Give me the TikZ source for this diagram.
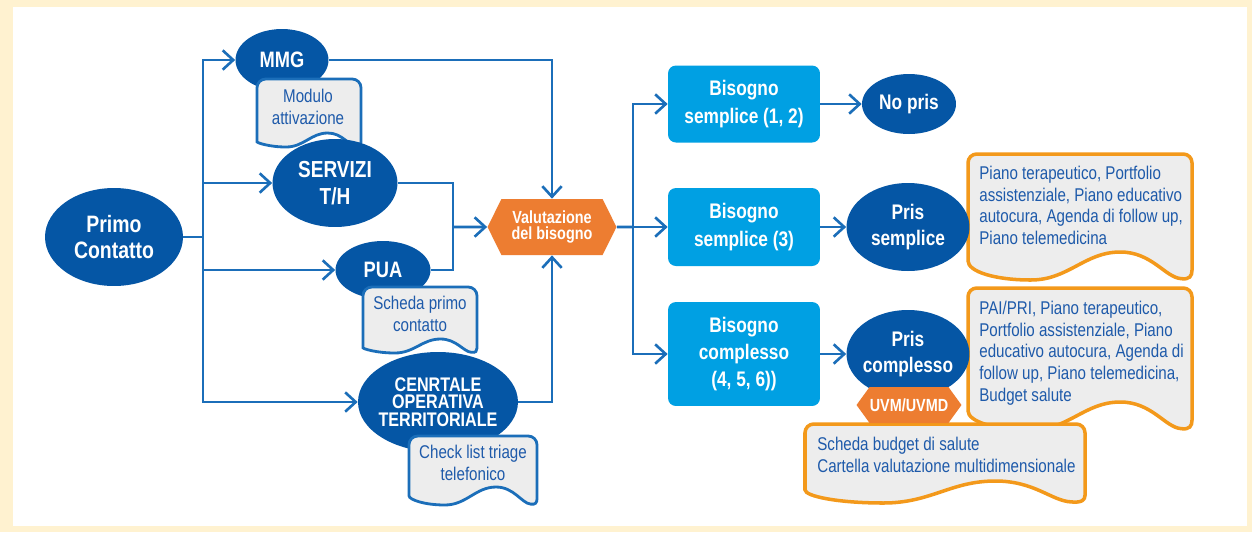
\documentclass[tikz,border=0pt]{standalone}
\usepackage{fontspec}
\setmainfont{Liberation Sans}[FakeStretch=0.82]
\usetikzlibrary{arrows.meta, shapes.geometric, shapes.symbols}

\definecolor{cream}{RGB}{255,242,208}
\definecolor{ellblue}{RGB}{5,86,165}
\definecolor{linkblue}{RGB}{27,110,185}
\definecolor{needcyan}{RGB}{0,160,227}
\definecolor{hexorange}{RGB}{237,125,49}
\definecolor{docorange}{RGB}{243,153,27}
\definecolor{docgray}{RGB}{237,237,237}
\definecolor{docink}{RGB}{30,90,170}

% document shape with a wavy bottom: colour, x1, y1, x2, y2, wave depth
\newcommand{\wavedoc}[6]{%
  \pgfmathsetmacro{\docw}{#4-#2}%
  \draw[doc, draw=#1]
    (#4,#5-0.35*#6) [rounded corners=5pt] -- (#4,#3) -- (#2,#3) -- (#2,#5-#6) [sharp corners]
    .. controls (#2,#5-0.3*#6) and (#2+0.12*\docw,#5) .. (#2+0.28*\docw,#5)
    .. controls (#2+0.45*\docw,#5) and (#2+0.52*\docw,#5-#6) .. (#2+0.68*\docw,#5-#6)
    .. controls (#2+0.82*\docw,#5-#6) and (#4-0.12*\docw,#5-0.1*#6) .. (#4-0.05*\docw,#5-0.05*#6)
    .. controls (#4-0.01*\docw,#5) and (#4,#5-0.15*#6) .. (#4,#5-0.35*#6) -- cycle;
}

\begin{document}
\begin{tikzpicture}[
  x=0.02cm, y=-0.02cm,
  ell/.style={ellipse, fill=ellblue, text=white, inner sep=0pt, inner xsep=-6pt, align=center,
    font=\bfseries\fontsize{12}{15.3}\selectfont},
  need/.style={rectangle, rounded corners=4.5pt, fill=needcyan, text=white, minimum width=3.04cm,
    align=center, font=\bfseries\fontsize{12}{15.6}\selectfont},
  hexa/.style={signal, signal to=west and east, fill=hexorange, text=white, inner sep=0pt,
    align=center, font=\bfseries\fontsize{10}{9.6}\selectfont},
  doc/.style={fill=docgray, line width=1.6pt},
  doctext/.style={text=docink, inner sep=0pt, font=\fontsize{10.5}{12.3}\selectfont},
  conn/.style={draw=linkblue, line width=1.5pt},
  arr/.style={conn, -{Straight Barb[length=6pt, width=11pt]}},
]

% --- frame
\fill[cream] (0,0) rectangle (1252,532);
\fill[white] (13,7) rectangle (1247,526);
\useasboundingbox (0,0) rectangle (1252,532);

% --- entry points
\node[ell, font=\bfseries\fontsize{13.5}{15.3}\selectfont, minimum width=2.76cm, minimum height=1.96cm]
  (primo) at (114,237) {Primo\\Contatto};
\node[ell, font=\bfseries\fontsize{12.7}{15}\selectfont, minimum width=1.86cm, minimum height=1.24cm]
  (mmg) at (282,60) {MMG};
\wavedoc{linkblue}{257}{79}{361}{147}{14}
\node[doctext, align=center] (modulo) at (308,107) {Modulo\\attivazione};
\node[ell, font=\bfseries\fontsize{13.2}{15.1}\selectfont, minimum width=2.5cm, minimum height=1.76cm]
  (servizi) at (335,183) {SERVIZI\\T/H};
\node[ell, font=\bfseries\fontsize{12.7}{15}\selectfont, minimum width=1.9cm, minimum height=1.16cm]
  (pua) at (383,270) {PUA};
\wavedoc{linkblue}{363}{287}{477}{353}{14}
\node[doctext, align=center] (scheda) at (420,314) {Scheda primo\\contatto};
\node[ell, font=\bfseries\fontsize{11.2}{9.9}\selectfont, minimum width=3.2cm, minimum height=2cm]
  (cot) at (438,402) {CENRTALE\\OPERATIVA\\TERRITORIALE};
\wavedoc{linkblue}{409}{436}{537}{505}{18}
\node[doctext, align=center] (checklist) at (473,463) {Check list triage\\telefonico};

% --- assessment
\node[hexa, minimum width=2.58cm, minimum height=1.12cm, signal pointer angle=127]
  (valut) at (552,227) {Valutazione\\del bisogno};

% --- need levels
\node[need, minimum height=1.54cm] (bs12) at (744,104) {Bisogno\\semplice (1, 2)};
\node[need, minimum height=1.56cm] (bs3) at (744,227) {Bisogno\\semplice (3)};
\node[need, minimum height=2.08cm] (bcomp) at (744,354) {Bisogno\\complesso\\(4, 5, 6))};

% --- outcomes and their documents
\wavedoc{docorange, line width=2pt}{968}{154}{1192}{280}{28}
\node[doctext, anchor=north west, align=left] (pianosemp) at (979,166)
  {Piano terapeutico, Portfolio\\assistenziale, Piano educativo\\autocura, Agenda di follow up,\\Piano telemedicina};
\wavedoc{docorange, line width=2pt}{968}{288}{1192}{430}{28}
\node[doctext, anchor=north west, align=left] (pianocomp) at (979,301)
  {PAI/PRI, Piano terapeutico,\\Portfolio assistenziale, Piano\\educativo autocura, Agenda di\\follow up, Piano telemedicina,\\Budget salute};
\wavedoc{docorange, line width=2pt}{805}{424}{1085}{503}{22}
\node[doctext, anchor=north west, align=left] (budget) at (817,437)
  {Scheda budget di salute\\Cartella valutazione multidimensionale};

\node[ell, minimum width=1.88cm, minimum height=1.2cm] (nopris) at (909,104) {No pris};
\node[ell, minimum width=2.46cm, minimum height=1.76cm] (prissemp) at (908,227) {Pris\\semplice};
\node[ell, minimum width=2.46cm, minimum height=1.76cm] (priscomp) at (908,354) {Pris\\complesso};
\node[hexa, minimum width=2.1cm, minimum height=0.72cm, signal pointer angle=108]
  (uvm) at (909,405) {UVM/UVMD};

% --- connectors
\coordinate (fork) at (203,237);
\coordinate (merge) at (453,227);
\coordinate (branch) at (633,227);

\draw[conn] (primo) -- (fork);
\foreach \n in {mmg, servizi, pua, cot}
  \draw[arr] (fork) |- (\n);
\draw[arr] (mmg) -| (valut);
\draw[conn] (servizi) -| (merge);
\draw[conn] (pua) -| (merge);
\draw[arr] (merge) -- (valut);
\draw[arr] (cot) -| (valut);

\draw[conn] (valut) -- (branch);
\foreach \n in {bs12, bs3, bcomp}
  \draw[arr] (branch) |- (\n);
\draw[arr] (bs12) -- (nopris);
\draw[arr] (bs3) -- (prissemp);
\draw[arr] (bcomp) -- (priscomp);

\end{tikzpicture}
\end{document}
